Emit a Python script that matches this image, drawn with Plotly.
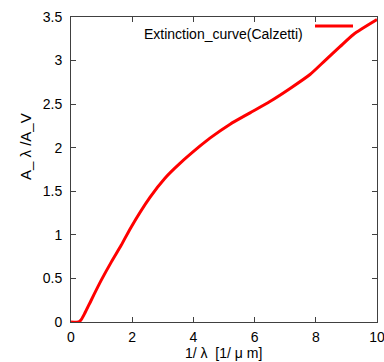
import plotly.graph_objects as go

inv_lambda = [0, 0.25, 0.34, 0.45, 0.66, 0.99, 1.32, 1.64, 1.95, 2.58, 3.07, 3.56, 4.22,
              4.54, 5.20, 5.85, 6.50, 7.16, 7.81, 8.30, 8.79, 9.23, 10.0]
a_ratio = [0, 0, 0.03, 0.10, 0.25, 0.48, 0.69, 0.88, 1.08, 1.43, 1.65, 1.82, 2.02,
           2.11, 2.27, 2.40, 2.53, 2.68, 2.84, 3.00, 3.16, 3.30, 3.47]
series_name = "Extinction_curve(Calzetti)"
x_title = "1/ λ  [1/ μ m]"
y_title = "A_ λ /A_V"
x_ticks = [0, 2, 4, 6, 8, 10]
y_ticks = [0, 0.5, 1, 1.5, 2, 2.5, 3, 3.5]

FONT = "Liberation Sans, Arial, sans-serif"
AX = "#404040"

fig = go.Figure()
fig.add_trace(go.Scatter(x=inv_lambda, y=a_ratio, mode="lines", name=series_name,
                         line=dict(color="#ff0000", width=3, shape="spline", smoothing=0.6),
                         showlegend=False))

axis_common = dict(showgrid=False, zeroline=False, showline=True, linecolor=AX, linewidth=1,
                   mirror="ticks", ticks="inside", ticklen=5, tickcolor=AX,
                   tickfont=dict(family=FONT, size=14, color="#000"),
                   ticklabeloverflow="allow", automargin=False)
fig.update_xaxes(range=[0, 10], tickvals=x_ticks, ticktext=[str(v) for v in x_ticks],
                 ticklabelstandoff=2, **axis_common)
fig.update_yaxes(range=[0, 3.5], tickvals=y_ticks, ticktext=[f"{v:g}" for v in y_ticks],
                 ticklabelstandoff=5, **axis_common)

fig.update_layout(
    width=384, height=362, margin=dict(l=71, r=7, t=17, b=40),
    paper_bgcolor="white", plot_bgcolor="white",
    font=dict(family=FONT, size=13, color="#000"),
    annotations=[
        dict(xref="paper", yref="paper", x=(305-71)/306, y=(322-34)/305, text=series_name,
             showarrow=False, xanchor="right", yanchor="middle",
             font=dict(family=FONT, size=14, color="#000")),
        dict(xref="paper", yref="paper", x=(223-71)/306, y=-(362-322)/305, text=x_title,
             showarrow=False, xanchor="center", yanchor="bottom", borderpad=0,
             font=dict(family=FONT, size=14, color="#000")),
        dict(xref="paper", yref="paper", x=-(71-25)/306, y=(322-147)/305, text=y_title,
             textangle=-90, showarrow=False, xanchor="center", yanchor="middle",
             font=dict(family=FONT, size=15, color="#000")),
    ],
    shapes=[dict(type="line", xref="paper", yref="paper",
                 x0=(315-71)/306, x1=(353-71)/306, y0=(322-26)/305, y1=(322-26)/305,
                 line=dict(color="#ff0000", width=3))],
)

fig.write_html("out.html")
